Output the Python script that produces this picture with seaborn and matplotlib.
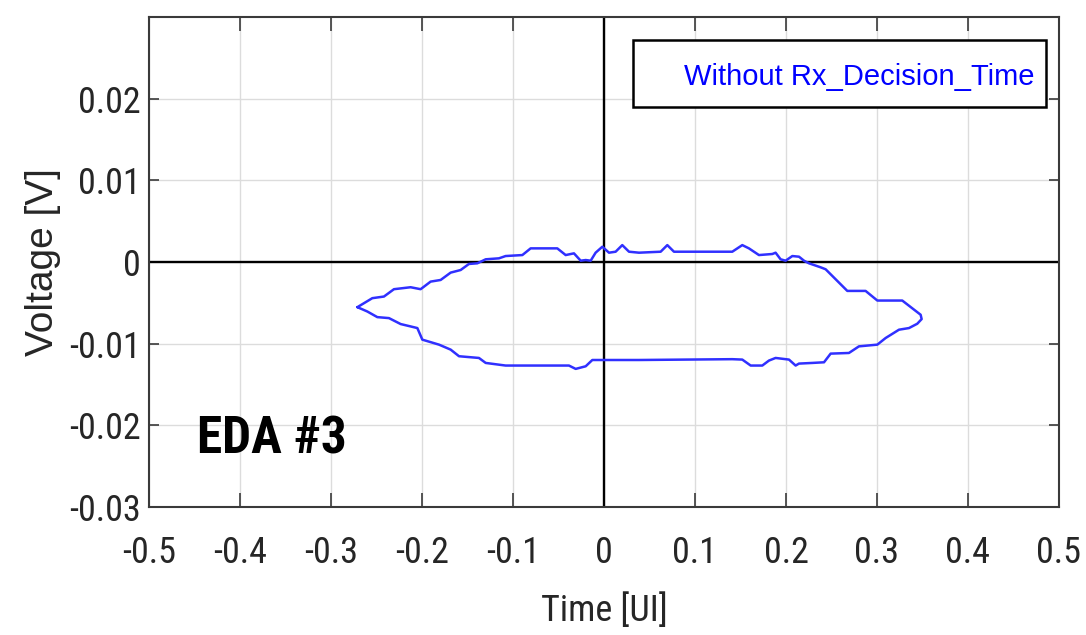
import matplotlib
matplotlib.use("Agg")
import matplotlib.pyplot as plt
from matplotlib import font_manager
from matplotlib.patches import Rectangle
import seaborn as sns
import pandas as pd

# ---- data ----
upper_time = [-0.271, -0.2546, -0.2418, -0.2308, -0.2125, -0.2015, -0.1905, -0.1795, -0.1685, -0.1575,
              -0.1484, -0.1392, -0.1300, -0.1154, -0.1081, -0.0897, -0.0806, -0.0513, -0.0421, -0.0330,
              -0.0256, -0.0201, -0.0146, -0.0092, -0.0018, 0.0055, 0.0128, 0.0201, 0.0275, 0.0385,
              0.0623, 0.0696, 0.0769, 0.1410, 0.1520, 0.1593, 0.1703, 0.1850, 0.1886, 0.1941,
              0.1996, 0.2070, 0.2143, 0.2198, 0.2253, 0.2381, 0.2436, 0.2674, 0.2875, 0.3004,
              0.3278, 0.3480, 0.3491]
upper_mv = [-5.53, -4.43, -4.23, -3.33, -3.09, -3.33, -2.40, -2.20, -1.30, -0.98,
            -0.24, -0.16, 0.33, 0.45, 0.73, 0.85, 1.67, 1.67, 0.85, 1.06,
            0.16, 0.24, 0.16, 1.14, 1.87, 1.14, 1.26, 2.07, 1.26, 1.14,
            1.26, 2.07, 1.26, 1.26, 2.07, 1.67, 0.85, 0.98, 1.14, 0.33,
            0.16, 0.73, 0.65, 0.16, -0.16, -0.65, -0.89, -3.54, -3.54, -4.72,
            -4.72, -6.46, -6.99]
lower_time = [0.3443, 0.3352, 0.3242, 0.3095, 0.3004, 0.2802, 0.2692, 0.2491, 0.2418, 0.2289,
              0.2143, 0.2106, 0.2033, 0.1886, 0.1813, 0.1740, 0.1612, 0.1520, 0.1410, 0.0385,
              -0.0128, -0.0201, -0.0311, -0.0385, -0.1081, -0.1300, -0.1374, -0.1593, -0.1685, -0.1813,
              -0.1996, -0.2051, -0.2125, -0.2234, -0.2363, -0.2491, -0.2601, -0.271]
lower_mv = [-7.56, -8.09, -8.29, -9.31, -10.12, -10.33, -11.14, -11.22, -12.28, -12.36,
            -12.44, -12.68, -11.95, -11.75, -12.07, -12.68, -12.68, -11.95, -11.90, -12.00,
            -12.00, -12.77, -13.09, -12.68, -12.68, -12.36, -11.75, -11.54, -10.73, -10.12,
            -9.51, -8.09, -7.89, -7.60, -6.87, -6.75, -6.06, -5.53]

x_ticks = [-0.5, -0.4, -0.3, -0.2, -0.1, 0, 0.1, 0.2, 0.3, 0.4, 0.5]
x_ticklabels = ["-0.5", "-0.4", "-0.3", "-0.2", "-0.1", "0", "0.1", "0.2", "0.3", "0.4", "0.5"]
y_ticks = [-0.03, -0.02, -0.01, 0, 0.01, 0.02]
y_ticklabels = ["-0.03", "-0.02", "-0.01", "0", "0.01", "0.02"]

legend_text = "Without Rx_Decision_Time"
panel_label = "EDA #3"
x_label = "Time [UI]"
y_label = "Voltage [V]"

# ---- fonts: look for a narrow / condensed sans ----
def stretch_val(s):
    if isinstance(s, (int, float)):
        return s
    return font_manager.stretch_dict.get(str(s), 500)

def weight_val(w):
    if isinstance(w, (int, float)):
        return w
    return font_manager.weight_dict.get(str(w), 400)

def find_condensed(bold):
    prefs = ["Liberation Sans Narrow", "Roboto Condensed", "Noto Sans", "DejaVu Sans",
             "Open Sans", "Roboto", "Liberation Sans"]
    best = None
    for f in font_manager.fontManager.ttflist:
        if f.style != "normal":
            continue
        narrowish = ("Narrow" in f.name or "Condensed" in f.name
                     or "Condensed" in f.fname or "Narrow" in f.fname
                     or stretch_val(f.stretch) < 500)
        if not narrowish:
            continue
        if "Extra" in f.fname or "Ultra" in f.fname or "Semi" in f.fname:
            continue
        w = weight_val(f.weight)
        if bold and w < 600:
            continue
        if not bold and w != 400:
            continue
        fam = next((i for i, p in enumerate(prefs) if f.name.startswith(p)), 99)
        key = (fam, abs(w - (700 if bold else 400)))
        if best is None or key < best[0]:
            best = (key, f.fname)
    return best[1] if best else None

narrow_reg = find_condensed(False)
narrow_bold = find_condensed(True)

def fp(path, size, fallback_family="Liberation Sans", weight="normal", fallback_size=None):
    if path:
        return font_manager.FontProperties(fname=path, size=size)
    return font_manager.FontProperties(family=fallback_family, weight=weight,
                                       size=fallback_size or size)

sns.set_theme(style="white")
plt.rcParams["font.family"] = ["Liberation Sans", "DejaVu Sans"]

df = pd.DataFrame({
    "time": upper_time + lower_time + [upper_time[0]],
    "voltage": [v * 1e-3 for v in upper_mv + lower_mv + [upper_mv[0]]],
})

fig = plt.figure(figsize=(10.86, 6.35), dpi=100)
ax = fig.add_axes([0.1372, 0.2016, 0.8379, 0.7716])

ax.set_xlim(-0.5, 0.5)
ax.set_ylim(-0.03, 0.03)
ax.set_xticks(x_ticks)
ax.set_xticklabels(x_ticklabels)
ax.set_yticks(y_ticks)
ax.set_yticklabels(y_ticklabels)
ax.grid(True, color="#dcdcdc", linewidth=1.0)
ax.set_axisbelow(True)

ax.axhline(0, color="black", linewidth=1.7, zorder=2)
ax.axvline(0, color="black", linewidth=1.7, zorder=2)

sns.lineplot(data=df, x="time", y="voltage", sort=False, estimator=None,
             color="#3030ff", linewidth=1.8, ax=ax, zorder=3)

for s in ax.spines.values():
    s.set_color("#3a3a3a")
    s.set_linewidth(1.5)
    s.set_visible(True)

ax.tick_params(axis="x", direction="in", length=10, width=1.2, color="#3a3a3a",
               top=True, bottom=True, pad=20, labelcolor="#262626")
ax.tick_params(axis="y", direction="in", length=7, width=1.2, color="#3a3a3a",
               left=True, right=True, pad=6, labelcolor="#262626")
tick_fp = fp(narrow_reg, 26, fallback_size=22)
for lab in ax.get_xticklabels() + ax.get_yticklabels():
    lab.set_fontproperties(tick_fp)

ax.set_xlabel(x_label, fontproperties=fp(narrow_reg, 26, fallback_size=22),
              color="#262626", labelpad=16)
ax.set_ylabel(y_label, fontsize=28, family=["Liberation Sans", "DejaVu Sans"],
              color="#262626", labelpad=6)

# legend-like box
ax.add_patch(Rectangle((0.532, 0.817), 0.4537, 0.136, transform=ax.transAxes,
                       facecolor="white", edgecolor="black", linewidth=1.8, zorder=5))
ax.text(0.9736, 0.877, legend_text, transform=ax.transAxes, ha="right", va="center",
        color="#0000ff", fontsize=21, family=["Liberation Sans", "DejaVu Sans"], zorder=6)

ax.text(-0.447, -0.0235, panel_label, ha="left", va="baseline", color="black", zorder=6,
        fontproperties=fp(narrow_bold, 37, weight="bold", fallback_size=32))

fig.savefig("out.png", dpi=100)
